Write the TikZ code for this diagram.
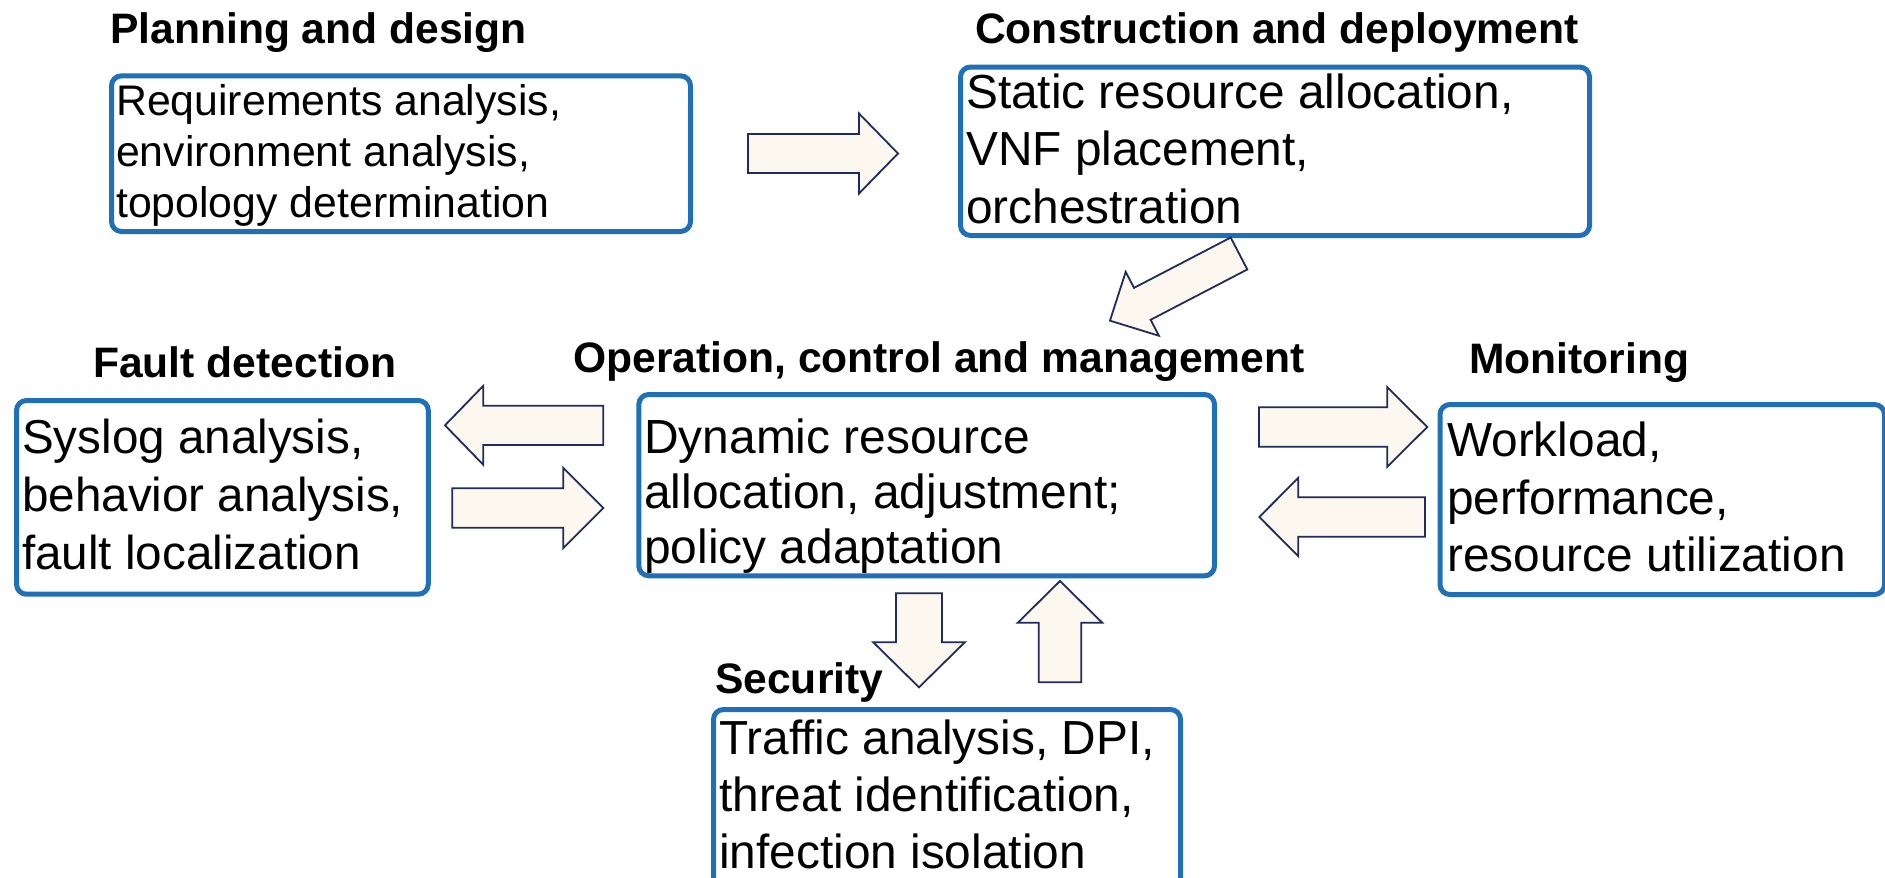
\documentclass[tikz,border=0pt]{standalone}
\usepackage{fontspec}
\setmainfont{Liberation Sans}
\definecolor{frameblue}{RGB}{31,112,183}
\definecolor{arrowfill}{RGB}{252,248,240}
\definecolor{arrowline}{RGB}{32,44,92}
% several lines of text whose reference point is the first baseline
\newcommand{\boxlines}[1]{\begin{tabular}[t]{@{}l@{}}#1\end{tabular}}
\tikzset{
  panel/.style={draw=frameblue, line width=5pt, rounded corners=10pt, fill=white,
                anchor=north west, inner sep=0pt},
  heading/.style={anchor=base west, inner sep=0pt,
                  font=\fontsize{42.6}{50}\selectfont\bfseries},
  body/.style={anchor=base west, inner sep=0pt},
  blockarrow/.style={draw=arrowline, fill=arrowfill, line width=1.8pt, line join=miter},
  % block arrow: length, shaft width, head width, head length
  pics/barrow/.style n args={4}{code={
    \path[blockarrow] (0,#2/2) -- (#1-#4,#2/2) -- (#1-#4,#3/2) -- (#1,0)
      -- (#1-#4,-#3/2) -- (#1-#4,-#2/2) -- (0,-#2/2) -- cycle;
  }}
}
\begin{document}
\begin{tikzpicture}[x=1pt, y=-1pt]
  \useasboundingbox (0,0) rectangle (1885,878);
  \fill[white] (0,0) rectangle (1885,878);

  % stage boxes
  \node[panel, minimum width=579pt, minimum height=155.7pt] (plan) at (109,73.3) {};
  \node[panel, minimum width=629pt, minimum height=168.5pt] (build) at (958,64.5) {};
  \node[panel, minimum width=411.8pt, minimum height=193.7pt] (fault) at (14,398) {};
  \node[panel, minimum width=575.7pt, minimum height=181.3pt] (ops) at (636.3,392) {};
  \node[panel, minimum width=444.5pt, minimum height=190pt] (mon) at (1437.5,402) {};
  \node[panel, minimum width=467pt, minimum height=180pt] (sec) at (711,707) {};

  % headings
  \node[heading] (planT) at (110,43.3) {Planning and design};
  \node[heading] (buildT) at (975,43.3) {Construction and deployment};
  \node[heading] (opsT) at (573,372.7) {Operation, control and management};
  \node[heading] (faultT) at (93,377) {Fault detection};
  \node[heading] (monT) at (1469,373) {Monitoring};
  \node[heading] (secT) at (715,693.3) {Security};

  % box contents
  \node[body, font=\fontsize{42.8}{51}\selectfont] (planX) at (116,115)
    {\boxlines{Requirements analysis,\\environment analysis,\\topology determination}};
  \node[body, font=\fontsize{47.8}{57.5}\selectfont] (buildX) at (966,108)
    {\boxlines{Static resource allocation,\\VNF placement,\\orchestration}};
  \node[body, font=\fontsize{47.6}{58.3}\selectfont] (faultX) at (22,453)
    {\boxlines{Syslog analysis,\\behavior analysis,\\fault localization}};
  \node[body, font=\fontsize{47.9}{55}\selectfont] (opsX) at (644,453)
    {\boxlines{Dynamic resource\\allocation, adjustment;\\policy adaptation}};
  \node[body, font=\fontsize{47.8}{57.5}\selectfont] (monX) at (1447,456.7)
    {\boxlines{Workload,\\performance,\\resource utilization}};
  \node[body, font=\fontsize{47.8}{57}\selectfont] (secX) at (719,754)
    {\boxlines{Traffic analysis, DPI,\\threat identification,\\infection isolation}};

  % block arrows between the stages
  \coordinate (planToBuild) at (748,153.5);
  \coordinate (buildToOps) at (1239,253.5);
  \coordinate (opsToFault) at (603.3,425.3);
  \coordinate (faultToOps) at (452.3,508);
  \coordinate (opsToMon) at (1259,427);
  \coordinate (monToOps) at (1425,517);
  \coordinate (opsToSec) at (919,593.3);
  \coordinate (secToOps) at (1060,682.3);

  \pic at (planToBuild) {barrow={150}{39}{80}{39}};
  \pic[rotate=207.5] at (buildToOps) {barrow={145.5}{36}{72}{36.5}};
  \pic[rotate=180] at (opsToFault) {barrow={158.3}{39.3}{79}{38.3}};
  \pic at (faultToOps) {barrow={151}{39.4}{80}{40}};
  \pic at (opsToMon) {barrow={168.3}{39.4}{79.4}{40}};
  \pic[rotate=180] at (monToOps) {barrow={165.7}{39.4}{78.4}{39}};
  \pic[rotate=-90] at (opsToSec) {barrow={94}{46}{91.5}{45}};
  \pic[rotate=90] at (secToOps) {barrow={101.3}{42.6}{84.4}{41.7}};
\end{tikzpicture}
\end{document}
